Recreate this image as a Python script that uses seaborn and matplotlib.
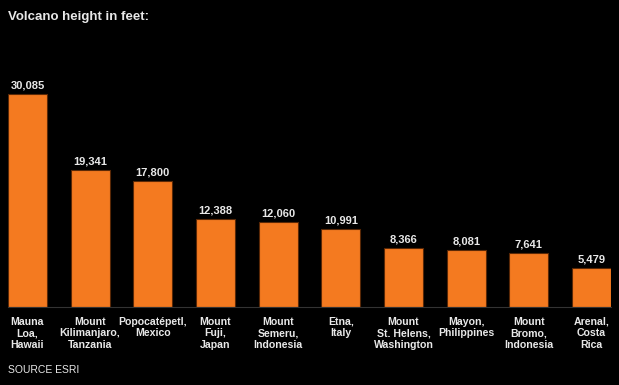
#!/usr/bin/env python3

import pandas as pd
import seaborn as sns
import matplotlib.pyplot as plt

names = [
    "Mauna\nLoa,\nHawaii",
    "Mount\nKilimanjaro,\nTanzania",
    "Popocatépetl,\nMexico",
    "Mount\nFuji,\nJapan",
    "Mount\nSemeru,\nIndonesia",
    "Etna,\nItaly",
    "Mount\nSt. Helens,\nWashington",
    "Mayon,\nPhilippines",
    "Mount\nBromo,\nIndonesia",
    "Arenal,\nCosta\nRica",
]
heights = [30085, 19341, 17800, 12388, 12060, 10991, 8366, 8081, 7641, 5479]

BG = "#000000"
BAR = "#F47A20"
TXT = "#e8e8e8"

sns.set_style("dark")
plt.rcParams["font.family"] = ["Liberation Sans", "DejaVu Sans"]

df = pd.DataFrame({"name": names, "height": heights})

W, H = 619, 385
fig = plt.figure(figsize=(W / 100, H / 100), dpi=100, facecolor=BG)
ax = fig.add_axes([8 / W, (H - 307) / H, 603 / W, (307 - 60) / H])
ax.set_facecolor(BG)

sns.barplot(data=df, x="name", y="height", color=BAR, width=0.62,
            edgecolor="#5a2806", linewidth=0.8, saturation=1, ax=ax)

ax.set_xlim(-0.31, len(names) - 0.69)
ax.set_ylim(0, 30085 * (307 - 60) / 213)

for i, v in enumerate(heights):
    ax.text(i, v + 500, f"{v:,}", ha="center", va="bottom",
            color=TXT, fontsize=8, fontweight="bold")

ax.set_xlabel("")
ax.set_ylabel("")
ax.set_yticks([])
ax.tick_params(axis="x", length=0, pad=7, colors=TXT)
for lbl in ax.get_xticklabels():
    lbl.set_fontsize(7.6)
    lbl.set_fontweight("bold")
    lbl.set_linespacing(1.2)
    lbl.set_va("top")
for s in ["top", "left", "right"]:
    ax.spines[s].set_visible(False)
ax.spines["bottom"].set_color("#333333")
ax.spines["bottom"].set_linewidth(0.8)
ax.grid(False)

fig.text(8 / W, 1 - 17 / H, "Volcano height in feet:", color=TXT,
         fontsize=9.5, fontweight="bold", va="center", ha="left")
fig.text(8 / W, 1 - 370 / H, "SOURCE ESRI", color=TXT,
         fontsize=7.5, va="center", ha="left")

fig.savefig("out.png", dpi=100, facecolor=BG)
